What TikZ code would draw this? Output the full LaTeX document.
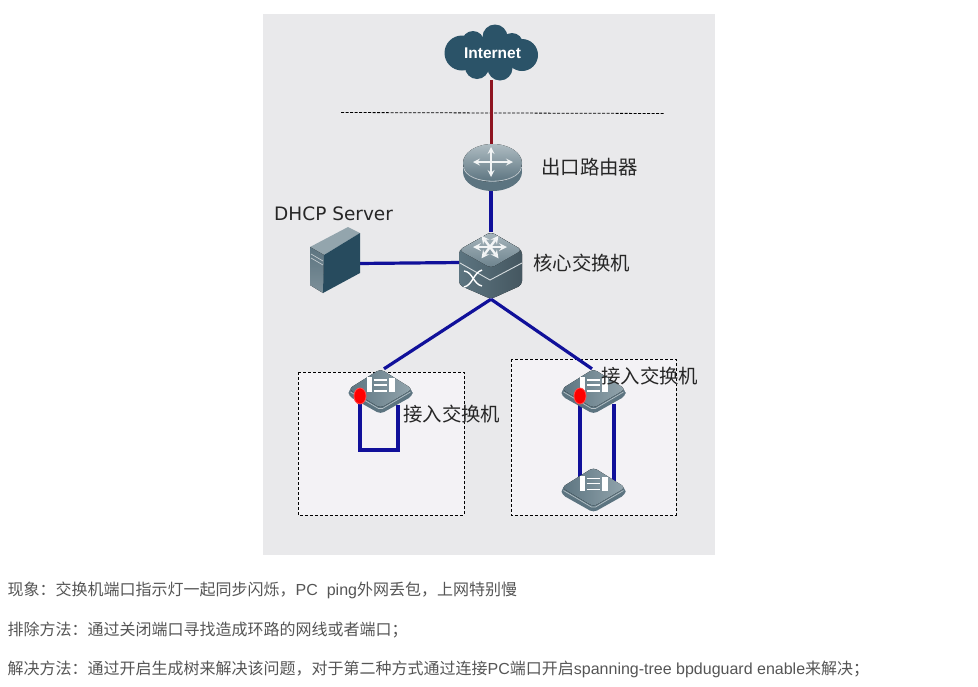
\documentclass[tikz,border=0pt]{standalone}
\usepackage{fontspec}
\setmainfont{Liberation Sans}
\newfontfamily\cjk{Noto Sans CJK SC}
\newfontfamily\dejavu{DejaVu Sans}
\definecolor{panelbg}{HTML}{E9E9EB}
\definecolor{boxbg}{HTML}{F3F2F5}
\definecolor{linkblue}{HTML}{10109A}
\definecolor{linkred}{HTML}{8E1420}
\definecolor{cloudblue}{HTML}{2B5368}
\definecolor{bodydark}{HTML}{5C7480}
\definecolor{bodylight}{HTML}{93A5AD}
\definecolor{captiongray}{HTML}{555555}
\tikzset{
  link/.style={draw=linkblue, line width=3.2pt},
  boxline/.style={draw=black, line width=0.8pt, dash pattern=on 3pt off 2pt},
  devlabel/.style={font=\cjk\fontsize{19.4}{19.4}\selectfont, text=black!85, inner sep=0pt, anchor=west},
  caption/.style={font=\fontsize{16}{16}\selectfont, text=captiongray, inner sep=0pt, anchor=west},
  slot/.style={inner sep=0pt, minimum width=63pt},
  glyph/.style={draw=white!92!bodydark, line width=2pt, >=stealth},
  portdot/.style={ellipse, fill=red, draw=red!70!white, line width=0.8pt, inner sep=0pt, minimum width=12pt, minimum height=16pt}
}
\usetikzlibrary{shapes.geometric}
\newcommand{\accessicon}[2]{
  \pgfmathsetmacro{\xa}{#1};
  \pgfmathsetmacro{\ya}{#2};
  \fill [bodydark, rounded corners=4pt] (\xa, \ya) -- (\xa+32, \ya+21) -- (\xa+32, \ya+27) -- (\xa, \ya+45) -- (\xa-32, \ya+27) -- (\xa-32, \ya+21) -- cycle;
  \fill [left color=bodydark, right color=bodylight, rounded corners=4pt] (\xa, \ya) -- (\xa+32, \ya+20) -- (\xa, \ya+39) -- (\xa-32, \ya+20) -- cycle;
  \draw [white!55!bodydark, line width=0.7pt] (\xa-30, \ya+23) -- (\xa-2, \ya+39.5) -- (\xa+2, \ya+39.5) -- (\xa+30, \ya+23);
  \fill [white] (\xa-14, \ya+8) rectangle (\xa-9, \ya+23);
  \fill [white] (\xa+8, \ya+9) rectangle (\xa+14, \ya+23);
  \draw [white, line width=1.2pt] (\xa-7, \ya+11) -- (\xa+6, \ya+11);
  \draw [white, line width=1.2pt] (\xa-7, \ya+16) -- (\xa+6, \ya+16);
  \draw [white, line width=1.2pt] (\xa-7, \ya+22) -- (\xa+6, \ya+22);
}
\begin{document}
\begin{tikzpicture}[x=1pt, y=-1pt]
    \useasboundingbox (0, 0) rectangle (978, 686);
    \fill [panelbg] (263, 14) rectangle (715, 555);

    \filldraw [boxline, fill=boxbg] (298, 372) rectangle (464, 515);
    \filldraw [boxline, fill=boxbg] (511, 359) rectangle (676, 515);
    \draw [draw=black, line width=0.8pt, dash pattern=on 3pt off 1.5pt] (341, 112.5) -- (664, 113.5);

    % slots for the devices, icons come on top of the links
    \node (cloud) [slot, minimum height=55pt, minimum width=94pt] at (491, 52.5) {};
    \node (router) [slot, minimum height=47pt] at (491, 167.5) {};
    \node (core) [slot, minimum height=67pt] at (491, 265.5) {};
    \node (server) [slot, minimum width=50pt, minimum height=66pt] at (335, 260) {};
    \node (accessL) [slot, minimum height=45pt] at (384, 391.5) {};
    \node (accessR) [slot, minimum height=45pt] at (592, 391.5) {};
    \node (accessB) [slot, minimum height=46pt] at (593.5, 490) {};
    \node (portL) [portdot] at (360, 396) {};
    \node (portR) [portdot] at (580, 396) {};
    \coordinate (coreIn) at (461, 262.5);
    \coordinate (serverOut) at (358, 263.5);
    \coordinate (loopA) at (360, 450);
    \coordinate (loopB) at (398, 450);
    \coordinate (loopC) at (398, 405);
    \coordinate (linkA) at (580, 480);
    \coordinate (linkB) at (614, 404);
    \coordinate (linkC) at (614, 482);

    \draw [draw=linkred, line width=3pt] (cloud.south) -- (router.north);
    \draw [link] (router.south) -- (core.north);
    \draw [link] (serverOut) -- (coreIn);
    \draw [link] (core.south) -- (accessL.north);
    \draw [link] (core.south) -- (accessR.north);
    \draw [link, line join=miter] (portL.center) -- (loopA) -- (loopB) -- (loopC);
    \draw [link] (portR.center) -- (linkA);
    \draw [link] (linkB) -- (linkC);

    % cloud
    \fill [cloudblue] (462, 53) circle (17.5);
    \fill [cloudblue] (522, 55) circle (16);
    \fill [cloudblue] (495, 37) circle (12.5);
    \fill [cloudblue] (473, 42) circle (11);
    \fill [cloudblue] (512, 44) circle (11);
    \fill [cloudblue] (477, 67) circle (12);
    \fill [cloudblue] (500, 68) circle (12.5);
    \fill [cloudblue] (491, 54) ellipse (32 and 17);
    \node [text=white, font=\bfseries\fontsize{15.5}{15.5}\selectfont, inner sep=0pt] at (492.5, 53) {Internet};

    % router
    \fill [bodydark] (492.5, 172) ellipse (29.5 and 19);
    \fill [bodydark] (463, 163) rectangle (522, 172);
    \fill [top color=bodylight!75, bottom color=bodydark] (492.5, 163) ellipse (29.5 and 19);
    \draw [white!60!bodydark, line width=0.8pt] (463.5, 167) .. controls (467, 186) and (518, 186) .. (521.5, 167);
    \draw [glyph, <->] (473, 162) -- (513, 162);
    \draw [glyph, ->] (491, 163) -- (491, 147);
    \draw [glyph, ->] (491, 163) -- (491, 177);

    % core switch
    \fill [left color=bodydark, right color=bodydark!75!black, rounded corners=4pt] (491, 232) -- (522, 250) -- (522, 285) -- (491, 299) -- (459, 285) -- (459, 250) -- cycle;
    \fill [top color=bodylight!80, bottom color=bodydark!90, rounded corners=4pt] (491, 232) -- (522, 250) -- (491, 268) -- (459, 250) -- cycle;
    \draw [white!75!bodydark, line width=0.9pt] (460, 263) -- (490, 280) -- (522, 263);
    \foreach \ang in {0, 60, 120, 180, 240, 300}
      \draw [glyph, ->, line width=2.4pt] (490, 247) -- ++(\ang:17 and 13);
    \draw [white, line width=1.4pt] (464, 271) .. controls (473, 272) and (473, 284) .. (482, 286);
    \draw [white, line width=1.4pt] (464, 287) .. controls (473, 285) and (473, 273) .. (482, 270);

    % server
    \fill [bodylight] (310, 247) -- (348, 227) -- (360, 233) -- (324, 255) -- cycle;
    \fill [top color=bodydark, bottom color=bodydark!80] (310, 247) -- (324, 255) -- (323, 293) -- (310, 285) -- cycle;
    \fill [cloudblue!90!black] (324, 255) -- (360, 233) -- (360, 273) -- (323, 293) -- cycle;
    \draw [white!70!bodydark, line width=0.6pt] (311, 254) -- (323, 261);
    \draw [white!70!bodydark, line width=0.6pt] (311, 258) -- (323, 265);

    % access switches
    \accessicon{380.5}{369}
    \accessicon{593.5}{369}
    \accessicon{593.5}{467.5}
    \node [portdot] at (portL.center) {};
    \node [portdot] at (portR.center) {};

    \node [devlabel, font=\dejavu\fontsize{18.5}{18.5}\selectfont] at (274, 214) {DHCP Server};
    \node [devlabel] at (541, 167) {出口路由器};
    \node [devlabel] at (533, 263) {核心交换机};
    \node [devlabel] at (403, 414) {接入交换机};
    \node [devlabel] at (601, 376) {接入交换机};

    \node [caption] at (7.5, 590.5) {{\cjk 现象：交换机端口指示灯一起同步闪烁，}PC\ \ ping{\cjk 外网丢包，上网特别慢}};
    \node [caption] at (7.5, 630.5) {\cjk 排除方法：通过关闭端口寻找造成环路的网线或者端口；};
    \node [caption] at (7.5, 669.5) {{\cjk 解决方法：通过开启生成树来解决该问题，对于第二种方式通过连接}PC{\cjk 端口开启}spanning-tree bpduguard enable{\cjk 来解决；}};
  \end{tikzpicture}
\end{document}
